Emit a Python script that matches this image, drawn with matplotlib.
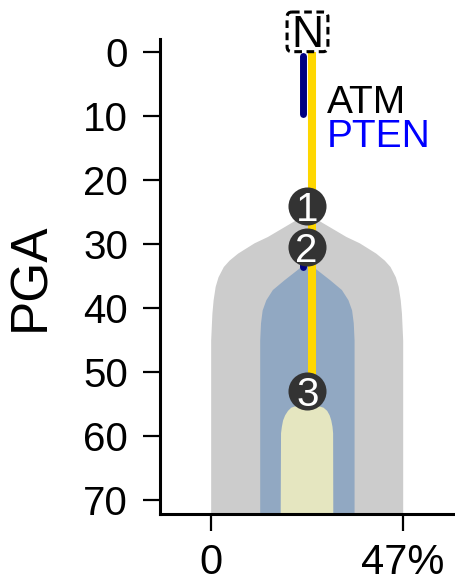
import matplotlib
matplotlib.use("Agg")
import matplotlib.pyplot as plt
from matplotlib.patches import FancyBboxPatch

plt.rcParams["font.family"] = ["Liberation Sans", "DejaVu Sans"]

# clone envelopes: depth (PGA) and left / right edge (%)
gray_depth = [25.2, 26.5, 28.8, 29.8, 31.4, 32.5, 33.5, 35.1, 36.6, 38.7, 40.8, 45.0, 75.0]
gray_left = [23.5, 20.0, 13.9, 10.6, 6.6, 4.5, 3.1, 1.8, 1.1, 0.6, 0.3, 0.0, 0.0]
gray_right = [23.5, 27.0, 33.1, 36.4, 40.4, 42.5, 43.9, 45.2, 45.9, 46.4, 46.7, 47.0, 47.0]

blue_depth = [32.8, 33.75, 35.6, 37.1, 38.7, 40.3, 42.3, 45.0, 75.0]
blue_left = [23.5, 21.6, 17.9, 15.1, 13.5, 12.6, 12.2, 12.0, 12.0]
blue_right = [23.5, 25.5, 29.2, 32.0, 33.6, 34.5, 34.9, 35.1, 35.1]

yellow_depth = [55.0, 55.2, 55.5, 56.0, 56.7, 57.5, 58.5, 59.5, 75.0]
yellow_left = [23.5, 21.0, 19.6, 18.8, 18.1, 17.6, 17.3, 17.1, 17.0]
yellow_right = [23.5, 26.0, 27.5, 28.4, 29.0, 29.4, 29.7, 29.85, 29.9]

# mutation tracks
gold_x = 24.7
gold_depth = [0.0, 50.5]
navy_x = 22.6
navy_segments = [(0.5, 9.7), (30.5, 33.6)]

# events
event_labels = ["1", "2", "3"]
event_x = [23.5, 23.5, 23.7]
event_depth = [24.1, 30.4, 52.9]

gene_labels = ["ATM", "PTEN"]
gene_colors = ["black", "blue"]
gene_x = 28.5
gene_depth = [8.0, 13.3]

root_label = "N"
root_x = 23.7
root_depth = -3.2

y_ticks = [0, 10, 20, 30, 40, 50, 60, 70]
x_ticks = [0, 47]
x_ticklabels = ["0", "47%"]

fig = plt.figure(figsize=(4.56, 5.84), dpi=100)
ax = fig.add_axes([0.3509, 0.1199, 0.6491, 0.8133])

ax.fill_betweenx(gray_depth, gray_left, gray_right, color="#cccccc", lw=0, zorder=1)
ax.fill_betweenx(blue_depth, blue_left, blue_right, color="#91a8c2", lw=0, zorder=2)
ax.fill_betweenx(yellow_depth, yellow_left, yellow_right, color="#e5e6c0", lw=0, zorder=2.5)

ax.plot([gold_x, gold_x], gold_depth, color="#ffd700", lw=5.8,
        solid_capstyle="butt", zorder=3)
for d0, d1 in navy_segments:
    ax.plot([navy_x, navy_x], [d0, d1], color="#000080", lw=5,
            solid_capstyle="round", zorder=4)

ax.scatter(event_x, event_depth, s=750, c="#333333", linewidths=0, zorder=5)
for lab, x, d in zip(event_labels, event_x, event_depth):
    ax.text(x, d, lab, color="white", fontsize=29, ha="center",
            va="center_baseline", zorder=6)

for lab, col, d in zip(gene_labels, gene_colors, gene_depth):
    ax.text(gene_x, d, lab, color=col, fontsize=28, ha="left", va="center")

# dashed root box (half sizes in data units)
box_w, box_h = 5.0, 3.1
ax.add_patch(FancyBboxPatch((root_x - box_w, root_depth - box_h), 2 * box_w, 2 * box_h,
                            boxstyle="round,pad=0,rounding_size=1.2",
                            mutation_aspect=0.64, fc="white", ec="black", lw=2.2,
                            ls=(0, (2.5, 1.5)), clip_on=False, zorder=7))
ax.text(root_x, root_depth + 2.3, root_label, fontsize=32, ha="center",
        va="baseline", clip_on=False, zorder=8)

ax.set_xlim(-12.4, 60.05)
ax.set_ylim(72.2, -2.08)
ax.set_yticks(y_ticks)
ax.set_xticks(x_ticks)
ax.set_xticklabels(x_ticklabels)
ax.set_ylabel("PGA", fontsize=37, labelpad=20)

for side in ["top", "right"]:
    ax.spines[side].set_visible(False)
for side in ["left", "bottom"]:
    ax.spines[side].set_linewidth(2.2)
ax.tick_params(axis="y", labelsize=29, length=12, width=1.6, pad=11)
ax.tick_params(axis="x", labelsize=30, length=12, width=1.6, pad=9)

fig.savefig("out.png", dpi=100)
